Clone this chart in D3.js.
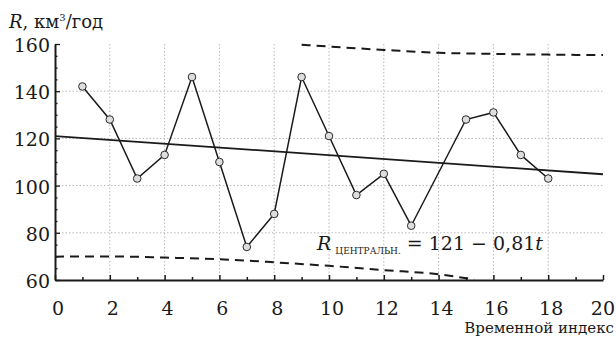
<!DOCTYPE html>
<html>
<head>
<meta charset="utf-8">
<script src="https://cdn.jsdelivr.net/npm/d3@7"></script>
<style>
  body { margin: 0; background: #fff; }
  svg { display: block; }
</style>
</head>
<body>
<div id="chart"></div>
<script>
// observed values, t = time index, R = runoff
var obsT = [1, 2, 3, 4, 5, 6, 7, 8, 9, 10, 11, 12, 13, 15, 16, 17, 18];
var obsR = [142, 128, 103, 113, 146, 110, 74, 88, 146, 121, 96, 105, 83, 128, 131, 113, 103];

// central trend line endpoints (R = 121 - 0.81t)
var trendT = [0, 20];
var trendR = [121, 104.8];

// dashed upper / lower bounds
var upperT = [9, 10, 12, 14, 16, 18, 20];
var upperR = [159.7, 158.9, 157.5, 156.3, 155.8, 155.5, 155.3];
var lowerT = [0, 2, 4, 6, 8, 10, 12, 14, 15.3];
var lowerR = [69.9, 70, 69.5, 68.8, 67.5, 66, 64.2, 62.4, 60.2];

var xTicks = [0, 2, 4, 6, 8, 10, 12, 14, 16, 18, 20];
var yTicks = [60, 80, 100, 120, 140, 160];

var FONT = '"DejaVu Serif", "Liberation Serif", "Noto Serif", "Times New Roman", serif';
var INK = '#1a1a1a';

var W = 616, H = 338;
var x = d3.scaleLinear().domain([0, 20]).range([55, 603]);
var y = d3.scaleLinear().domain([60, 160]).range([280, 44]);

var svg = d3.select('#chart').append('svg')
    .attr('width', W)
    .attr('height', H)
    .attr('font-family', FONT);

// dotted grid
var grid = svg.append('g')
    .attr('stroke', '#b8b8b8')
    .attr('stroke-width', 1)
    .attr('stroke-dasharray', '1.5,2');
grid.selectAll('.gx')
    .data(xTicks.filter(function(d) { return d > 0 && d < 20; }))
    .enter().append('line')
    .attr('x1', function(d) { return x(d); })
    .attr('x2', function(d) { return x(d); })
    .attr('y1', y(160))
    .attr('y2', y(60));
grid.selectAll('.gy')
    .data(yTicks.filter(function(d) { return d > 60 && d < 160; }))
    .enter().append('line')
    .attr('x1', x(0))
    .attr('x2', x(20))
    .attr('y1', function(d) { return y(d); })
    .attr('y2', function(d) { return y(d); });

// axes: ticks point into the plot
var xAxis = d3.axisBottom(x)
    .tickValues(d3.range(0, 21, 1))
    .tickSize(0)
    .tickFormat('');
var gx = svg.append('g')
    .attr('transform', 'translate(0,' + y(60) + ')')
    .call(xAxis);
gx.select('.domain').attr('stroke', INK).attr('stroke-width', 2);
gx.selectAll('.tick line')
    .attr('y2', function(d) { return d % 2 === 0 ? -5 : -3; })
    .attr('stroke', INK)
    .attr('stroke-width', 1.5);

var yAxis = d3.axisLeft(y)
    .tickValues(d3.range(60, 161, 5))
    .tickSize(0)
    .tickFormat('');
var gy = svg.append('g')
    .attr('transform', 'translate(' + x(0) + ',0)')
    .call(yAxis);
gy.select('.domain').attr('stroke', INK).attr('stroke-width', 2);
gy.selectAll('.tick line')
    .attr('x2', function(d) { return d % 20 === 0 ? 5 : 2.5; })
    .attr('stroke', INK)
    .attr('stroke-width', 1.3);

// tick labels
svg.append('g').selectAll('text')
    .data(xTicks)
    .enter().append('text')
    .attr('x', function(d) { return d === 20 ? 615 : x(d) + 3; })
    .attr('y', 315)
    .attr('text-anchor', function(d) { return d === 20 ? 'end' : 'middle'; })
    .attr('font-family', FONT)
    .attr('font-size', 19)
    .attr('fill', INK)
    .text(function(d) { return d; });
svg.append('g').selectAll('text')
    .data(yTicks)
    .enter().append('text')
    .attr('x', 50)
    .attr('y', function(d) { return y(d) + 8; })
    .attr('text-anchor', 'end')
    .attr('font-family', FONT)
    .attr('font-size', 19)
    .attr('fill', INK)
    .text(function(d) { return d; });

// dashed bounds
var curve = d3.line()
    .x(function(d) { return x(d[0]); })
    .y(function(d) { return y(d[1]); })
    .curve(d3.curveMonotoneX);
[[upperT, upperR], [lowerT, lowerR]].forEach(function(s) {
  svg.append('path')
      .datum(d3.zip(s[0], s[1]))
      .attr('d', curve)
      .attr('fill', 'none')
      .attr('stroke', INK)
      .attr('stroke-width', 2)
      .attr('stroke-dasharray', '9,6');
});

// trend line
var straight = d3.line()
    .x(function(d) { return x(d[0]); })
    .y(function(d) { return y(d[1]); });
svg.append('path')
    .datum(d3.zip(trendT, trendR))
    .attr('d', straight)
    .attr('fill', 'none')
    .attr('stroke', INK)
    .attr('stroke-width', 1.8);

// observed series
var obs = d3.zip(obsT, obsR);
svg.append('path')
    .datum(obs)
    .attr('d', straight)
    .attr('fill', 'none')
    .attr('stroke', INK)
    .attr('stroke-width', 1.5);
svg.append('g').selectAll('circle')
    .data(obs)
    .enter().append('circle')
    .attr('cx', function(d) { return x(d[0]); })
    .attr('cy', function(d) { return y(d[1]); })
    .attr('r', 3.8)
    .attr('fill', '#dedede')
    .attr('stroke', '#2a2a2a')
    .attr('stroke-width', 1);

// axis titles
var yt = svg.append('text')
    .attr('x', 9)
    .attr('y', 28)
    .attr('font-family', FONT)
    .attr('font-size', 18)
    .attr('fill', INK);
yt.append('tspan').attr('font-style', 'italic').text('R');
yt.append('tspan').text(', км');
yt.append('tspan').attr('dy', -7).attr('font-size', 10).text('3');
yt.append('tspan').attr('dy', 7).text('/год');

svg.append('text')
    .attr('x', 614)
    .attr('y', 333)
    .attr('text-anchor', 'end')
    .attr('font-family', FONT)
    .attr('font-size', 15)
    .attr('fill', INK)
    .text('Временной индекс');

// equation label
var eq = svg.append('text')
    .attr('x', 317)
    .attr('y', 250)
    .attr('font-family', FONT)
    .attr('font-size', 19)
    .attr('fill', INK);
eq.append('tspan').attr('font-style', 'italic').text('R');
eq.append('tspan').attr('dx', 4).attr('dy', 4).attr('font-size', 9).text('ЦЕНТРАЛЬН.');
eq.append('tspan').attr('dy', -4).text(' = 121 − 0,81');
eq.append('tspan').attr('font-style', 'italic').text('t');
</script>
</body>
</html>
